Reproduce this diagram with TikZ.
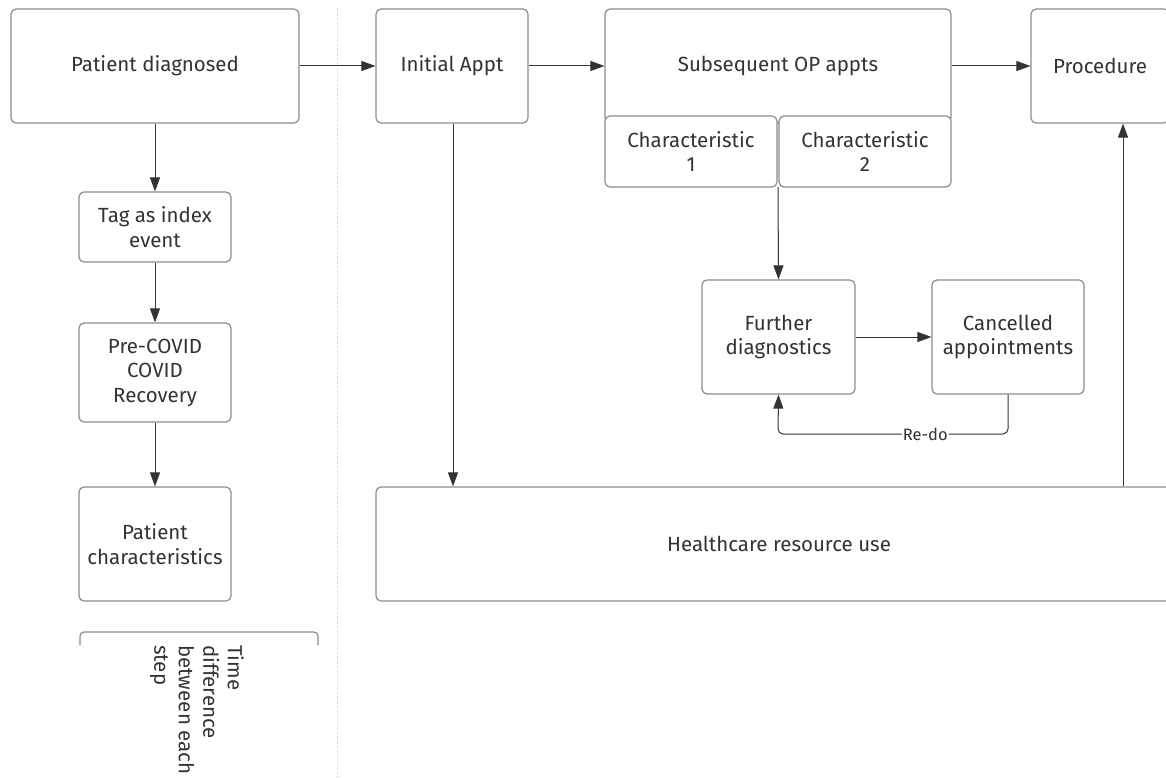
\documentclass[tikz,border=0pt]{standalone}
\usepackage{fontspec}
\setmainfont{Fira Sans}
\usetikzlibrary{arrows.meta}
\definecolor{bx}{HTML}{8C8C8C}
\definecolor{tx}{HTML}{333333}
\definecolor{dotc}{HTML}{C8C8C8}
\tikzset{
  box/.style={draw=bx, line width=1.2pt, rounded corners=5pt, fill=white, text=tx, align=center,
    font=\fontsize{20.5}{24.5}\selectfont, inner sep=0pt},
  arr/.style={draw=tx, line width=1pt, -{Triangle[length=14pt,width=10pt]}},
  lbl/.style={fill=white, text=tx, font=\fontsize{16.5}{18}\selectfont, inner sep=1pt}
}
\begin{document}
\begin{tikzpicture}[x=1pt,y=-1pt]
\useasboundingbox (0,0) rectangle (1166,778);
\begin{scope}
\clip (0,0) rectangle (1166,778);
\draw[dotc, line width=1pt, dash pattern=on 1pt off 1.5pt] (337,8) -- (337,778);

\node[box, minimum width=288, minimum height=114] (pd) at (155,66) {Patient diagnosed};
\node[box, minimum width=152, minimum height=70] (tag) at (155,227) {Tag as index\\event};
\node[box, minimum width=152, minimum height=99] (pre) at (155,372.5) {Pre-COVID\\COVID\\Recovery};
\node[box, minimum width=152, minimum height=114] (pc) at (155,544) {Patient\\characteristics};

\node[box, minimum width=152, minimum height=114] (ia) at (452,66) {Initial Appt};
\node[box, minimum width=346, minimum height=114] (so) at (778,66) {Subsequent OP appts};
\node[box, minimum width=172, minimum height=71] (c1) at (691,151.5) {Characteristic\\1};
\node[box, minimum width=172, minimum height=71] (c2) at (865,151.5) {Characteristic\\2};
\node[box, minimum width=138, minimum height=114] (pr) at (1100,66) {Procedure};

\node[box, minimum width=153, minimum height=114] (fd) at (778.5,337) {Further\\diagnostics};
\node[box, minimum width=152, minimum height=114] (ca) at (1008,337) {Cancelled\\appointments};

\node[box, minimum width=806, minimum height=114] (hc) at (779,544) {Healthcare resource use};

\coordinate (cj) at (778,187);

\draw[arr] (pd) -- (ia);
\draw[arr] (ia) -- (so);
\draw[arr] (so) -- (pr);
\draw[arr] (pd) -- (tag);
\draw[arr] (tag) -- (pre);
\draw[arr] (pre) -- (pc);
\draw[arr] (ia.south -| 453,0) -- (hc.north -| 453,0);
\draw[arr] (cj) -- (fd.north);
\draw[arr] (fd) -- (ca);
\draw[arr] (hc.north -| 1123,0) -- (pr.south -| 1123,0);
\draw[arr, rounded corners=5pt] (ca.south) -- (1008,434) -- node[lbl, pos=0.36]{Re-do} (778,434) -- (fd.south);

\draw[bx, line width=1.2pt, rounded corners=4pt] (80,645) -- (80,632) -- (318,632) -- (318,645);
\node[rotate=-90, anchor=north west, align=left, text=tx, inner sep=0pt,
  font=\fontsize{20.5}{24.5}\selectfont] (td) at (244,645) {Time\\difference\\between each\\step};
\end{scope}
\end{tikzpicture}
\end{document}
